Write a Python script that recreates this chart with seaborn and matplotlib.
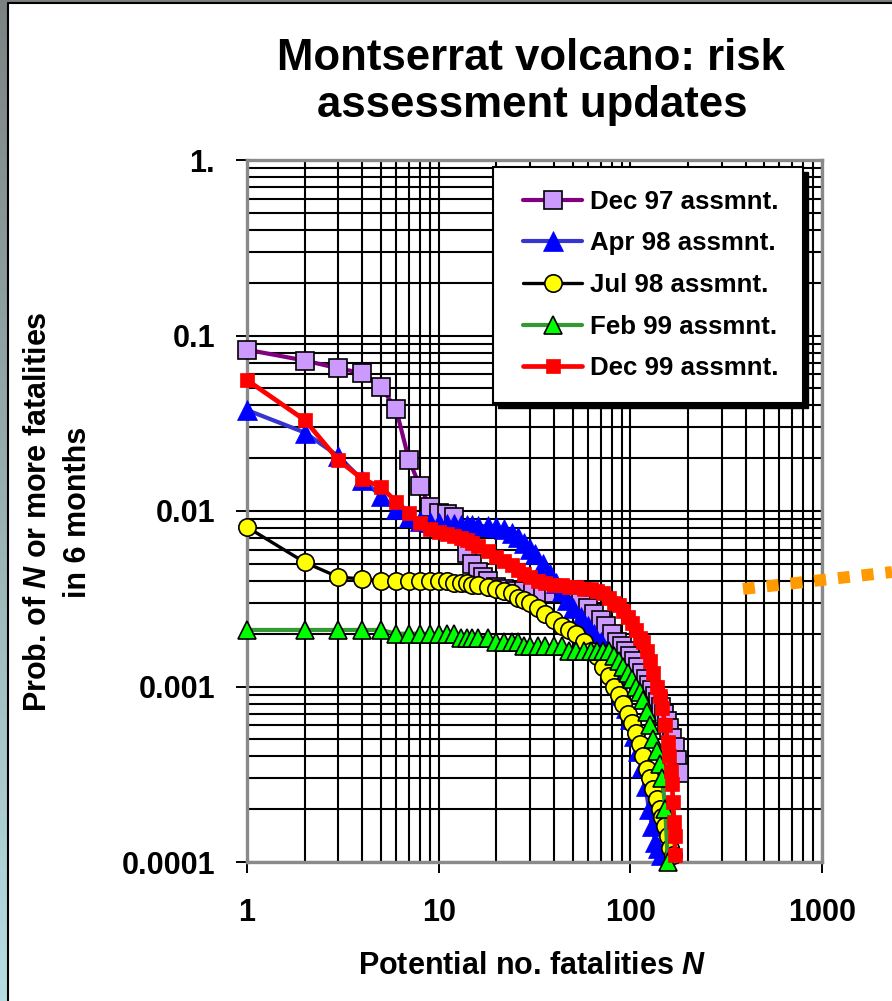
import numpy as np
import matplotlib
matplotlib.use('Agg')
import matplotlib.pyplot as plt
import seaborn as sns
from matplotlib.lines import Line2D
from matplotlib.patches import Rectangle
from matplotlib.ticker import FixedLocator, LogLocator, NullFormatter

sns.set_style('white')
plt.rcParams['font.family'] = ['Liberation Sans', 'DejaVu Sans']
plt.rcParams['font.weight'] = 'bold'
plt.rcParams['text.color'] = 'black'
plt.rcParams['axes.labelcolor'] = 'black'
plt.rcParams['xtick.color'] = 'black'
plt.rcParams['ytick.color'] = 'black'
plt.rcParams['mathtext.fontset'] = 'custom'
plt.rcParams['mathtext.it'] = 'Liberation Sans:italic:bold'
plt.rcParams['mathtext.rm'] = 'Liberation Sans:bold'
plt.rcParams['mathtext.bf'] = 'Liberation Sans:bold'

# ---------------- data ----------------
n_dec97 = [1, 2, 3, 4, 5, 6, 7, 8, 9, 10, 11, 12, 13, 14, 15, 16, 17, 18, 20, 22, 25, 28, 31, 35,
           40, 45, 50, 55, 60, 65, 70, 75, 80, 85, 90, 95, 100, 105, 110, 115, 120, 125, 130,
           135, 140, 145, 150, 155, 160, 165, 170, 175, 180]
p_dec97 = [0.083, 0.072, 0.065, 0.061, 0.051, 0.038, 0.0195, 0.0138, 0.0106, 0.0098, 0.0096,
           0.0093, 0.0075, 0.0058, 0.0050, 0.0045, 0.0042, 0.0040, 0.0037, 0.0036, 0.0035,
           0.0035, 0.0035, 0.0034, 0.0034, 0.0034, 0.0033, 0.0031, 0.0028, 0.0026, 0.0024,
           0.0022, 0.0020, 0.0018, 0.0017, 0.0016, 0.0015, 0.0014, 0.0013, 0.0012, 0.0011,
           0.00102, 0.00095, 0.00088, 0.00082, 0.00076, 0.0007, 0.00064, 0.00058, 0.00051,
           0.00045, 0.00038, 0.00032]

n_apr98 = [1, 2, 3, 4, 5, 6, 7, 8, 9, 10, 11, 12, 13, 14, 15, 16, 18, 20, 22, 24, 26, 28, 30, 32,
           35, 38, 41, 44, 47, 50, 55, 60, 65, 70, 75, 80, 85, 90, 95, 100, 105, 110, 115, 120,
           125, 130, 135, 140, 145]
p_apr98 = [0.0376, 0.028, 0.0205, 0.015, 0.0122, 0.0102, 0.0092, 0.0088, 0.0086, 0.0085, 0.0084,
           0.0084, 0.0083, 0.0083, 0.0083, 0.0082, 0.0082, 0.0081, 0.0079, 0.0075, 0.0071,
           0.0066, 0.0061, 0.0057, 0.0050, 0.0044, 0.0039, 0.0035, 0.0031, 0.0028, 0.0025,
           0.0022, 0.0020, 0.0018, 0.0016, 0.0014, 0.0011, 0.0009, 0.00075, 0.00065, 0.00052,
           0.00043, 0.00035, 0.00027, 0.0002, 0.00016, 0.00013, 0.00012, 0.00011]

n_jul98 = [1, 2, 3, 4, 5, 6, 7, 8, 9, 10, 11, 12, 13, 14, 15, 16, 18, 20, 22, 24, 26, 28, 30, 33,
           36, 40, 44, 48, 52, 57, 62, 67, 72, 77, 82, 87, 92, 97, 102, 107, 112, 117, 122, 127,
           132, 137, 142, 147, 152, 157, 162, 166]
p_jul98 = [0.0081, 0.0051, 0.0042, 0.0041, 0.0040, 0.0040, 0.0040, 0.0040, 0.0040, 0.0040,
           0.0040, 0.0039, 0.0039, 0.0039, 0.0038, 0.0038, 0.0037, 0.0036, 0.0035, 0.0034,
           0.0032, 0.0031, 0.0030, 0.0028, 0.0026, 0.0024, 0.0022, 0.0021, 0.0020, 0.0018,
           0.0016, 0.0015, 0.0013, 0.00115, 0.001, 0.0009, 0.0008, 0.0007, 0.00062,
           0.00054, 0.00047, 0.0004, 0.00034, 0.0003, 0.00026, 0.00023, 0.0002, 0.00018,
           0.00016, 0.00014, 0.00012, 0.00011]

n_feb99 = [1, 2, 3, 4, 5, 6, 7, 8, 9, 10, 11, 12, 13, 14, 15, 16, 18, 20, 22, 24, 26, 28, 30, 33,
           36, 40, 44, 48, 52, 57, 62, 67, 72, 77, 82, 87, 92, 97, 102, 107, 112, 117, 122, 127,
           132, 137, 142, 147, 152, 157]
p_feb99 = [0.0021, 0.0021, 0.0021, 0.0021, 0.0021, 0.0020, 0.0020, 0.0020, 0.0020, 0.0020,
           0.0020, 0.0020, 0.0019, 0.0019, 0.0019, 0.0019, 0.0019, 0.0018, 0.0018, 0.0018,
           0.0018, 0.0017, 0.0017, 0.0017, 0.0017, 0.0017, 0.0017, 0.0016, 0.0016, 0.0016,
           0.0016, 0.0016, 0.0016, 0.0016, 0.0015, 0.0014, 0.0013, 0.0012, 0.0011, 0.001,
           0.00093, 0.00084, 0.00072, 0.0006, 0.0005, 0.00043, 0.00036, 0.0003, 0.0002, 0.0001]

n_dec99 = [1, 2, 3, 4, 5, 6, 7, 8, 9, 10, 11, 12, 13, 14, 15, 16, 18, 20, 22, 24, 26, 28, 30, 33,
           36, 40, 44, 48, 52, 57, 62, 67, 72, 77, 82, 87, 92, 97, 102, 107, 112, 117, 122, 127,
           132, 137, 142, 147, 152, 157, 160, 163, 165, 167, 169, 170, 172]
p_dec99 = [0.0557, 0.033, 0.0195, 0.0152, 0.0137, 0.0113, 0.0098, 0.0085, 0.0079, 0.0076,
           0.0074, 0.0072, 0.0070, 0.0068, 0.0066, 0.0063, 0.0059, 0.0055, 0.0052, 0.0049,
           0.0046, 0.0044, 0.0042, 0.0040, 0.0039, 0.0038, 0.0038, 0.0037, 0.0037, 0.0036,
           0.0036, 0.0035, 0.0034, 0.0032, 0.0030, 0.0029, 0.0027, 0.0025, 0.0023, 0.0021,
           0.0019, 0.0018, 0.0016, 0.0014, 0.0012, 0.001, 0.00088, 0.00075, 0.0006, 0.00048,
           0.0004, 0.00033, 0.00028, 0.00022, 0.00017, 0.00014, 0.00011]

series_labels = ['Dec 97 assmnt.', 'Apr 98 assmnt.', 'Jul 98 assmnt.', 'Feb 99 assmnt.', 'Dec 99 assmnt.']
x_ticks = [1, 10, 100, 1000]
x_tick_labels = ['1', '10', '100', '1000']
y_ticks = [0.0001, 0.001, 0.01, 0.1, 1]
y_tick_labels = ['0.0001', '0.001', '0.01', '0.1', '1.']

title_lines = ['Montserrat volcano: risk', 'assessment updates']
xlabel = r'Potential no. fatalities $N$'
ylabel_lines = [r'Prob. of $N$ or more fatalities', 'in 6 months']

# ---------------- figure ----------------
W, H = 892, 1001
fig = plt.figure(figsize=(W / 100, H / 100), dpi=100)
fig.patch.set_facecolor('white')

def fx(px):
    return px / W

def fy(py):
    return 1 - py / H

# left gradient strip & frame
ax_bg = fig.add_axes([0, 0, fx(7), 1])
grad = np.linspace(0, 1, 256).reshape(-1, 1)
top_c = np.array([0x7c, 0x82, 0x82]) / 255
bot_c = np.array([0xb6, 0xde, 0xe2]) / 255
img = top_c[None, None, :] * (1 - grad[:, :, None]) + bot_c[None, None, :] * grad[:, :, None]
ax_bg.imshow(img, aspect='auto', extent=[0, 1, 0, 1], origin='upper')
ax_bg.axis('off')
fig.add_artist(Rectangle((0, fy(2)), 1, fy(0) - fy(2), transform=fig.transFigure,
                         facecolor='#7a7f7f', edgecolor='none'))
fig.add_artist(Line2D([fx(7.5), fx(7.5)], [0, fy(2.5)], transform=fig.transFigure,
                      color='black', lw=1.5))
fig.add_artist(Line2D([fx(7.5), 1], [fy(2.8), fy(2.8)], transform=fig.transFigure,
                      color='black', lw=1.5))

ax = fig.add_axes([fx(247), fy(862), fx(822) - fx(247), fy(160) - fy(862)])
ax.set_facecolor('white')
ax.set_xscale('log')
ax.set_yscale('log')

styles = [
    dict(color='#800080', marker='s', markersize=12.5, markerfacecolor='#CC99FF',
         markeredgecolor='black', markeredgewidth=1.2, linewidth=3.0),
    dict(color='#3535D0', marker='^', markersize=14, markerfacecolor='#0000FF',
         markeredgecolor='#0000FF', markeredgewidth=0.5, linewidth=3.0),
    dict(color='black', marker='o', markersize=12.5, markerfacecolor='#FFFF00',
         markeredgecolor='black', markeredgewidth=1.2, linewidth=2.4),
    dict(color='#339933', marker='^', markersize=13.5, markerfacecolor='#00FF00',
         markeredgecolor='black', markeredgewidth=1.2, linewidth=3.0),
    dict(color='#FF0000', marker='s', markersize=9.5, markerfacecolor='#FF0000',
         markeredgecolor='#FF0000', markeredgewidth=0.5, linewidth=3.4),
]
data = [(n_dec97, p_dec97), (n_apr98, p_apr98), (n_jul98, p_jul98),
        (n_feb99, p_feb99), (n_dec99, p_dec99)]

for i, ((n, p), st) in enumerate(zip(data, styles)):
    sns.lineplot(x=n, y=p, ax=ax, estimator=None, sort=False, errorbar=None,
                 legend=False, clip_on=False, zorder=3 + i * 0.1, **st)

ax.set_xlim(1, 1000)
ax.set_ylim(1e-4, 1)
ax.xaxis.set_major_locator(FixedLocator(x_ticks))
ax.set_xticklabels(x_tick_labels)
ax.yaxis.set_major_locator(FixedLocator(y_ticks))
ax.set_yticklabels(y_tick_labels)
ax.xaxis.set_minor_locator(LogLocator(base=10, subs=np.arange(2, 10)))
ax.yaxis.set_minor_locator(LogLocator(base=10, subs=np.arange(2, 10)))
ax.xaxis.set_minor_formatter(NullFormatter())
ax.yaxis.set_minor_formatter(NullFormatter())
ax.grid(True, which='both', color='black', linewidth=1.5)
ax.tick_params(which='major', direction='out', length=8, width=1.4, color='black',
               labelsize=22, labelcolor='black', pad=15, bottom=True, left=True,
               top=False, right=False)
ax.tick_params(axis='x', which='major', pad=18)
ax.tick_params(which='minor', length=0)
for sp in ax.spines.values():
    sp.set_color('#8a8a8a')
    sp.set_linewidth(2.4)
    sp.set_visible(True)
ax.set_xlabel('')
ax.set_ylabel('')

# legend box with shadow
ax.add_patch(Rectangle((fx(498), fy(408)), fx(808) - fx(498), fy(172) - fy(408),
                       transform=fig.transFigure, clip_on=False, facecolor='black',
                       edgecolor='black', zorder=4))
ax.add_patch(Rectangle((fx(493), fy(403)), fx(803) - fx(493), fy(167) - fy(403),
                       transform=fig.transFigure, clip_on=False, facecolor='white',
                       edgecolor='black', linewidth=1.5, zorder=4.1))
handles = [Line2D([], [], **st) for st in styles]
leg = ax.legend(handles, series_labels, loc='center left',
                bbox_to_anchor=(fx(523), fy(285)), bbox_transform=fig.transFigure,
                frameon=False, borderpad=0, borderaxespad=0, handlelength=2.3,
                handletextpad=0.28, labelspacing=0.68,
                prop={'family': 'Liberation Sans', 'weight': 'bold', 'size': 18.6})
for t in leg.get_texts():
    t.set_color('black')
leg.set_zorder(5)

# orange dotted decoration
ax.plot([fx(743), fx(892)], [fy(589), fy(572)], transform=fig.transFigure, clip_on=False,
        color='#FF9A00', linewidth=8.6, linestyle=(0, (1, 1)), dash_capstyle='butt', zorder=6)

# texts
fig.text(fx(531), fy(70), title_lines[0], fontsize=31.5, ha='center', va='baseline')
fig.text(fx(532), fy(117), title_lines[1], fontsize=31.5, ha='center', va='baseline')
fig.text(fx(532), fy(966), xlabel, fontsize=22, ha='center', va='center')
fig.text(fx(38), fy(512), ylabel_lines[0], fontsize=22, ha='center', va='center', rotation=90)
fig.text(fx(78), fy(512), ylabel_lines[1], fontsize=22, ha='center', va='center', rotation=90)

fig.savefig('out.png', dpi=100, facecolor='white')
